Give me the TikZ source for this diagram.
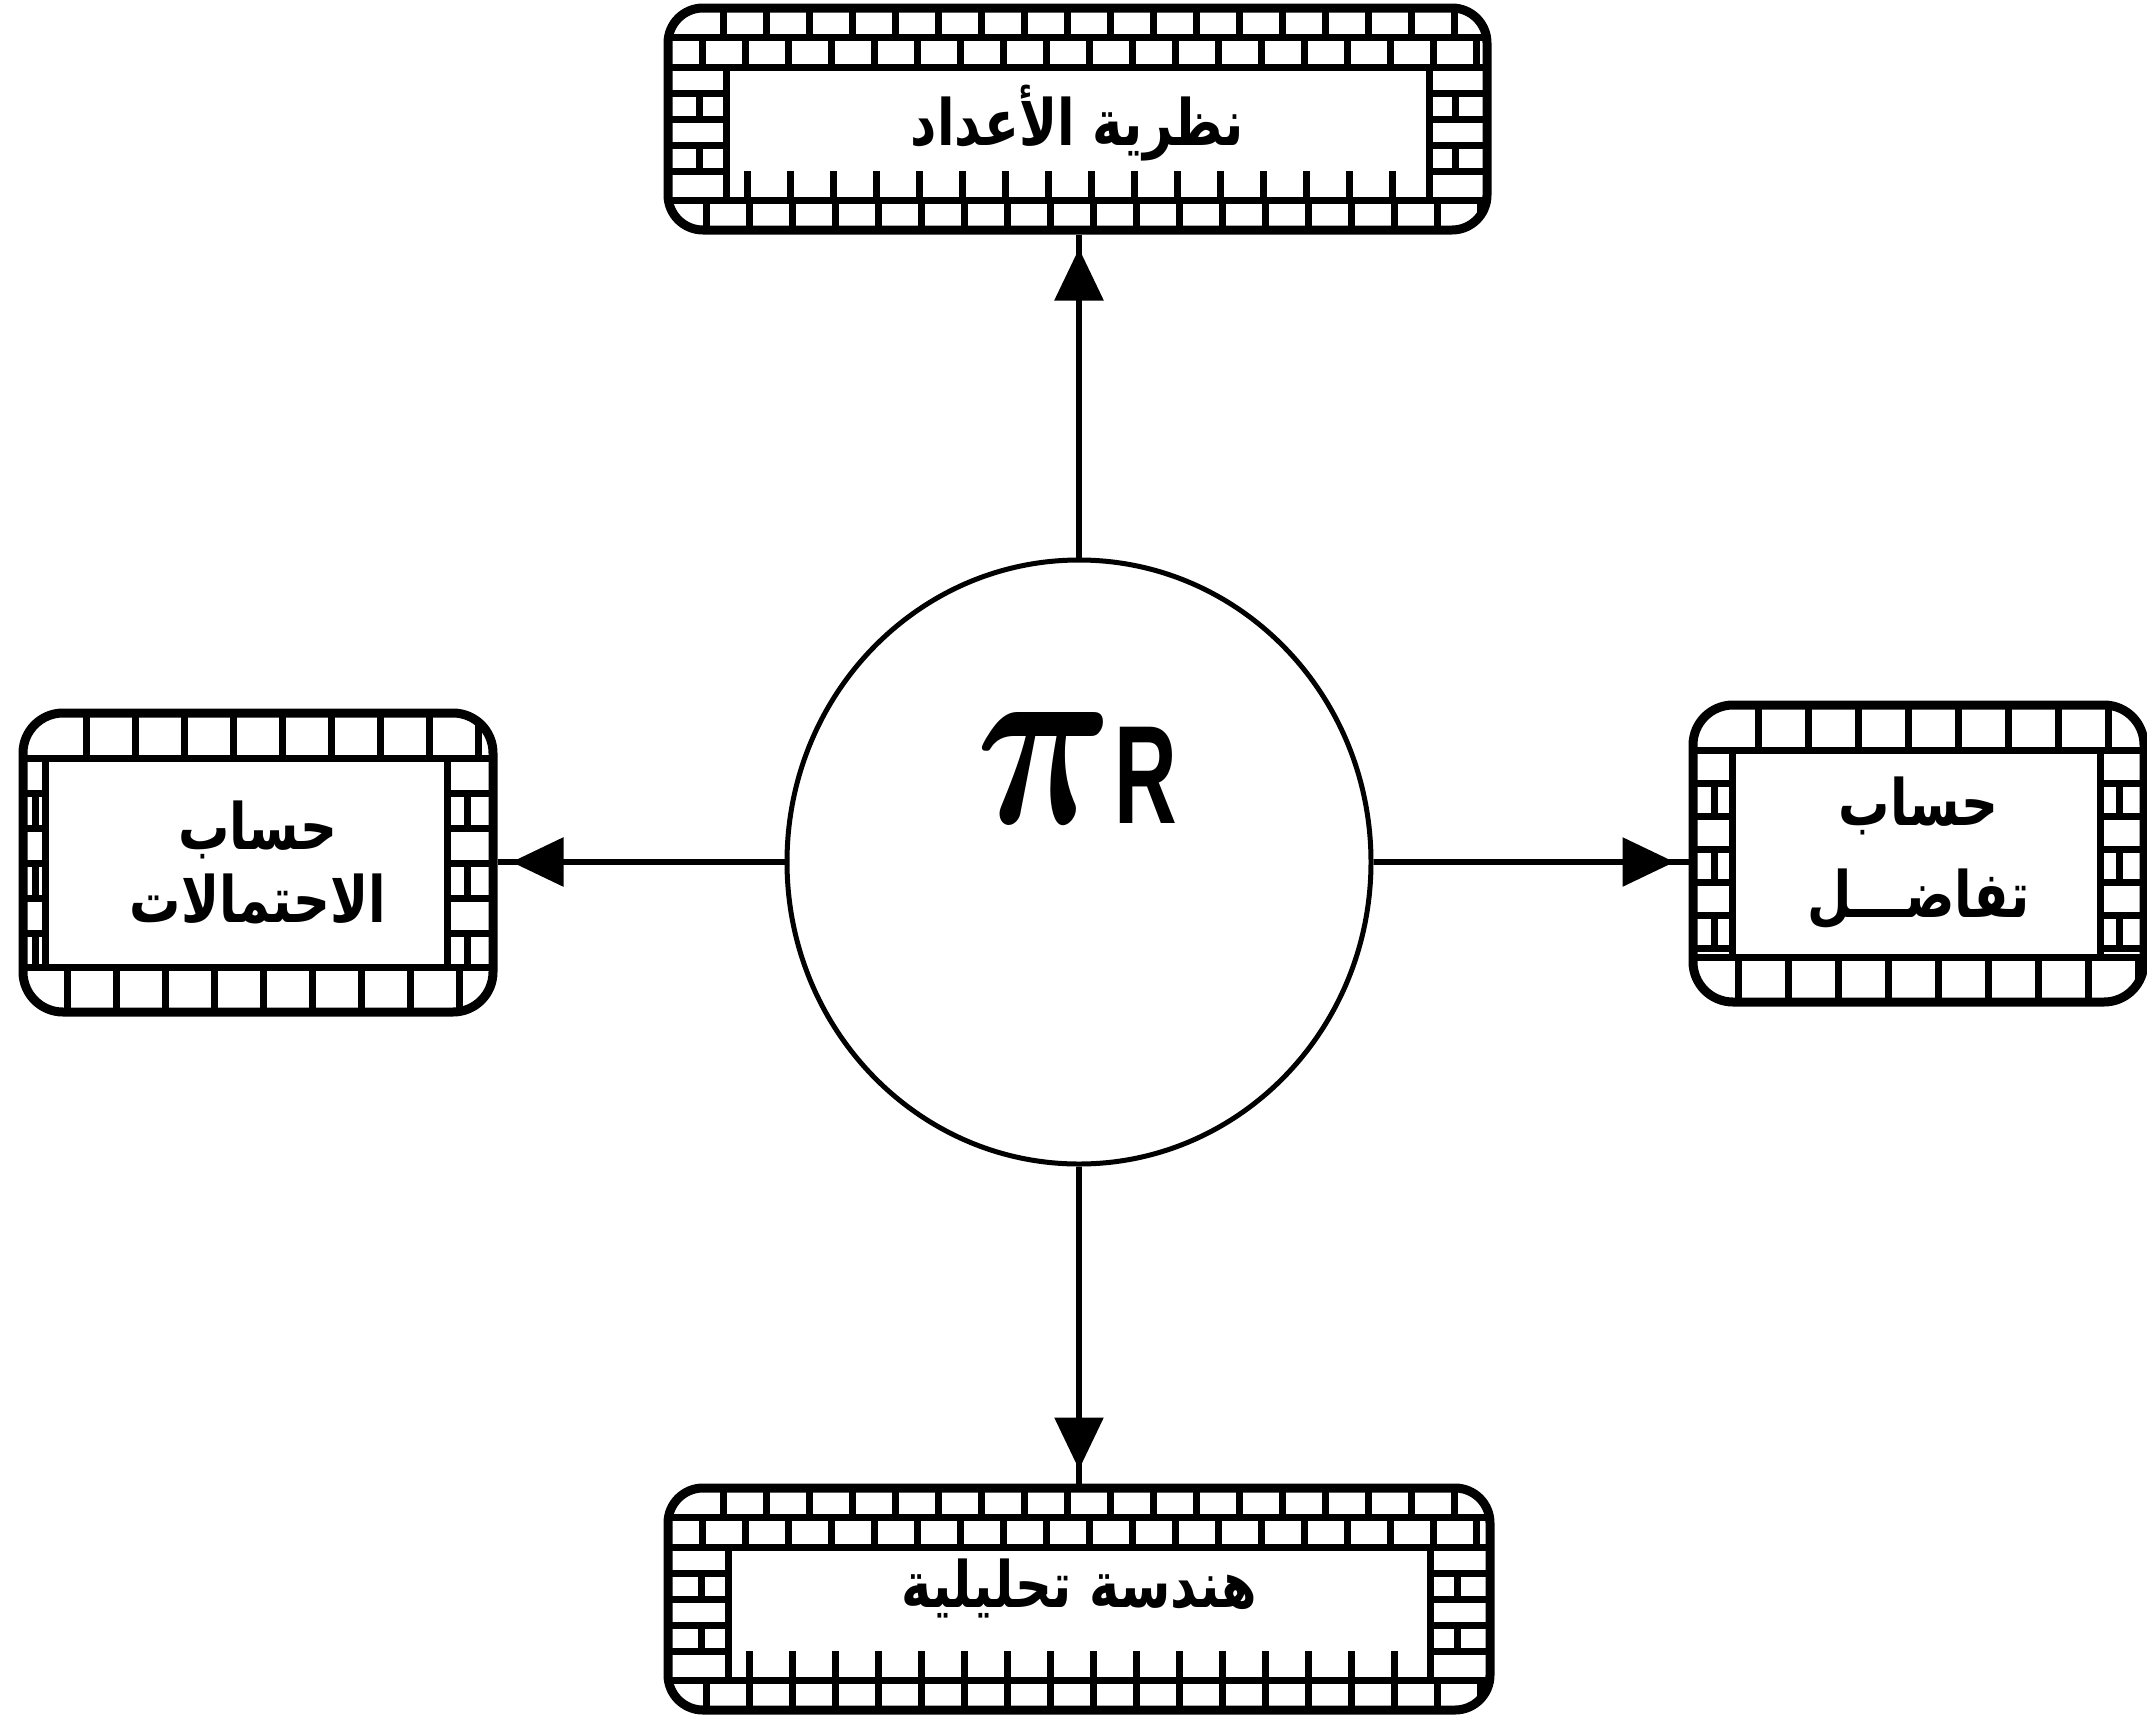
\documentclass[tikz,border=0pt]{standalone}
\usepackage{fontspec}
\usepackage{graphicx}
\usetikzlibrary{arrows.meta,shapes.geometric,decorations.markings,calc}
\newfontfamily\arabicfont[Script=Arabic,FakeStretch=0.8]{DejaVu Sans}
\newfontfamily\rfont{Liberation Sans}
\TeXXeTstate=1
\tikzset{
  mortar/.style={line width=7pt, line cap=rect},
  brickbox/.style={draw, line width=9pt, rounded corners=35pt, inner sep=0pt, align=center,
    font=\arabicfont\bfseries\fontsize{64}{73}\selectfont},
  coreshape/.style={ellipse, draw, line width=5pt, inner sep=0pt, minimum width=584pt, minimum height=604pt},
  conn/.style={line width=6pt, postaction={decorate},
    decoration={markings, mark=at position -14pt with {\arrow{Triangle[length=52pt,width=48pt]}}}}
}
% #1 x1 #2 y1 #3 x2 #4 y2 #5 top rows #6 bottom rows #7 left column width #8 row height #9 brick pitch
\newcommand\brickwall[9]{%
  \begin{scope}
  \clip[rounded corners=\bwrad pt] (#1,#2) rectangle (#3,#4);
  \pgfmathsetmacro\bwyt{#2+#5*#8}
  \pgfmathsetmacro\bwyb{#4-#8}
  \pgfmathsetmacro\bwxl{#1+#7}
  \pgfmathsetmacro\bwxr{#3-\bwcolR}
  \foreach \i in {1,...,#5}{%
    \pgfmathsetmacro\bwya{#2+(\i-1)*#8}
    \pgfmathsetmacro\bwyc{#2+\i*#8}
    \draw[mortar] (#1,\bwyc) -- (#3,\bwyc);
    \pgfmathsetmacro\bwxs{#1+#9*(0.8+0.5*mod(\i,2))}
    \pgfmathsetmacro\bwxn{\bwxs+#9}
    \foreach \xx in {\bwxs,\bwxn,...,#3}{\draw[mortar] (\xx,\bwya) -- (\xx,\bwyc);}
  }
  \draw[mortar] (#1,\bwyb) -- (#3,\bwyb);
  \pgfmathsetmacro\bwxs{#1+#9*0.9}
  \pgfmathsetmacro\bwxn{\bwxs+#9}
  \foreach \xx in {\bwxs,\bwxn,...,#3}{\draw[mortar] (\xx,\bwyb) -- (\xx,#4);}
  \ifnum#6>1
    \pgfmathsetmacro\bwyk{\bwyb-#8+3}
    \pgfmathsetmacro\bwxs{\bwxl+#9*0.5}
    \pgfmathsetmacro\bwxn{\bwxs+#9}
    \pgfmathsetmacro\bwxe{\bwxr-5}
    \foreach \xx in {\bwxs,\bwxn,...,\bwxe}{\draw[mortar] (\xx,\bwyk) -- (\xx,\bwyb);}
  \fi
  \draw[mortar] (\bwxl,\bwyt) -- (\bwxl,\bwyb);
  \draw[mortar] (\bwxr,\bwyt) -- (\bwxr,\bwyb);
  \pgfmathsetmacro\bwys{\bwyt+\bwcolrow}
  \pgfmathsetmacro\bwyn{\bwyt+2*\bwcolrow}
  \pgfmathsetmacro\bwye{\bwyb-8}
  \foreach \yy in {\bwys,\bwyn,...,\bwye}{\draw[mortar] (#1,\yy) -- (\bwxl,\yy) (\bwxr,\yy) -- (#3,\yy);}
  \pgfmathsetmacro\bwyn{\bwys+2*\bwcolrow}
  \foreach \yy in {\bwys,\bwyn,...,\bwye}{%
    \pgfmathsetmacro\bwyz{min(\yy+\bwcolrow,\bwyb)}
    \draw[mortar] ({#1+0.55*#7},\yy) -- ({#1+0.55*#7},\bwyz)
                  ({#3-0.55*\bwcolR},\yy) -- ({#3-0.55*\bwcolR},\bwyz);}
  \end{scope}}
\begin{document}
\begin{tikzpicture}[x=1pt,y=-1pt]
\useasboundingbox (0,0) rectangle (2147,1722);
% top box
\def\bwrad{35}\def\bwcolrow{26}\def\bwcolR{58}
\brickwall{668}{8}{1487}{230}{2}{2}{58}{29.5}{43}
\node[brickbox, minimum width=819pt, minimum height=222pt, text height=52pt, text depth=0pt]
  (numth) at (1077.5,119) {\beginR نظرية الأعداد\endR};
% bottom box
\def\bwcolR{60}
\brickwall{668}{1488}{1490}{1710}{2}{2}{60}{29.5}{43}
\node[brickbox, minimum width=822pt, minimum height=222pt, text height=16pt, text depth=0pt]
  (geom) at (1079,1599) {\beginR هندسة تحليلية\endR};
% left box
\def\bwrad{40}\def\bwcolrow{35}\def\bwcolR{46}
\brickwall{23}{713}{493}{1012}{1}{1}{22}{45}{49}
\node[brickbox, rounded corners=40pt, minimum width=470pt, minimum height=299pt]
  (prob) at (258,862.5) {\beginR حساب\endR\\\beginR الاحتمالات\endR};
% right box
\def\bwcolrow{33}\def\bwcolR{44}
\brickwall{1693}{705}{2144}{1002}{1}{1}{39}{45}{50}
\node[brickbox, rounded corners=40pt, minimum width=451pt, minimum height=297pt,
  font=\arabicfont\bfseries\fontsize{64}{92}\selectfont]
  (calc) at (1918.5,853.5) {\beginR حساب\endR\\\beginR تفاضـــل\endR};
% centre
\node[coreshape] (core) at (1079,862) {};
\node[inner sep=0pt] (pilabel) at (1077,768)
  {\scalebox{19}[25]{\boldmath$\pi$}\hspace{1pt}\scalebox{0.62}[1]{\rfont\bfseries\fontsize{140}{140}\selectfont R}};
% connectors
\draw[conn] (core.north) -- (core.north |- numth.south);
\draw[conn] (core.south) -- (core.south |- geom.north);
\draw[conn] (core.west) -- (core.west -| prob.east);
\draw[conn] (core.east) -- (core.east -| calc.west);
\end{tikzpicture}
\end{document}
